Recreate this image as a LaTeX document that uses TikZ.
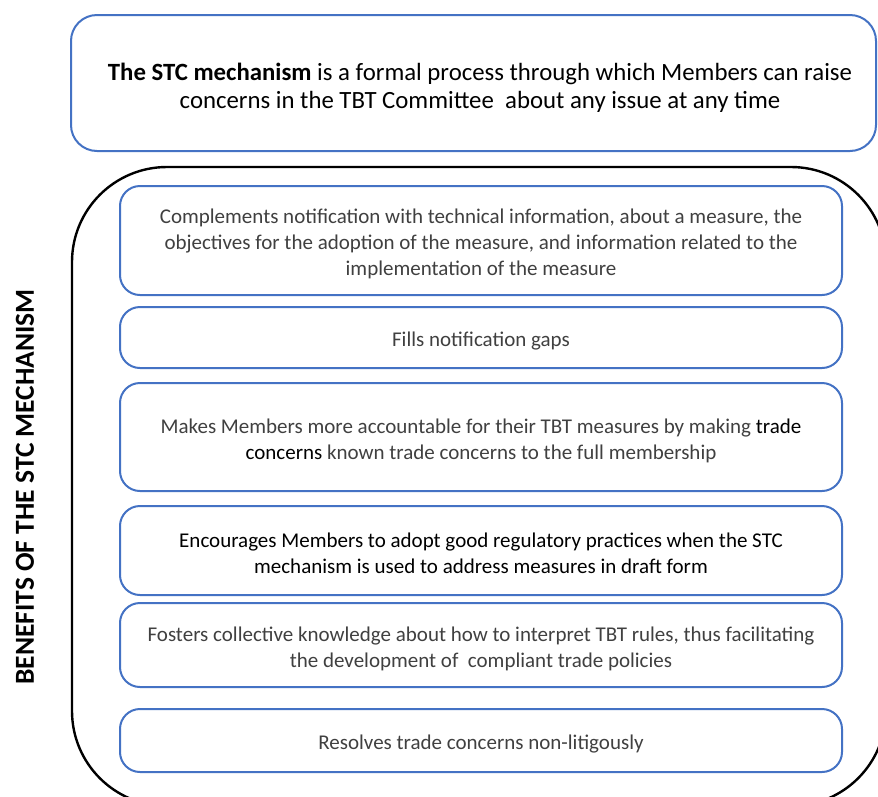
\documentclass[tikz,border=0pt]{standalone}
\usepackage{fontspec}
\setmainfont{Carlito}
\definecolor{boxblue}{HTML}{4472C4}
\definecolor{txtgray}{HTML}{404040}
\begin{document}
\begin{tikzpicture}[x=1pt,y=-1pt,
  itembox/.style={draw=boxblue,line width=2pt,rounded corners=20pt,minimum width=722pt,inner sep=0pt},
  itemtext/.style={align=center,text=txtgray,font=\fontsize{21}{26}\selectfont,inner sep=0pt,yshift=-3.5pt},
  topbox/.style={draw=boxblue,line width=2pt,rounded corners=26pt,minimum width=805pt,
    minimum height=136pt,inner sep=0pt}]
\useasboundingbox (0,0) rectangle (878,796);
\clip (0,0) rectangle (878,796);
\fill[white] (0,0) rectangle (878,796);
\node[topbox] (top) at (473.5,83) {};
\node[align=center,font=\fontsize{24.8}{28}\selectfont,inner sep=0pt] (toptext) at (480,88) {\textbf{The STC mechanism} is a formal process through which Members can raise\\concerns in the TBT Committee\ \ about any issue at any time};
\draw[line width=2.4pt,rounded corners=95pt] (72,167) rectangle (886,806);
\node[itembox,minimum height=109pt] (b1) at (481,240.5) {};
\node[itemtext] (t1) at (b1.center) {Complements notification with technical information, about a measure, the\\objectives for the adoption of the measure, and information related to the\\implementation of the measure};
\node[itembox,minimum height=61pt] (b2) at (481,337.5) {};
\node[itemtext] (t2) at (b2.center) {Fills notification gaps};
\node[itembox,minimum height=108pt] (b3) at (481,437) {};
\node[itemtext] (t3) at (b3.center) {Makes Members more accountable for their TBT measures by making \textcolor{black}{trade}\\\textcolor{black}{concerns} known trade concerns to the full membership};
\node[itembox,minimum height=89pt] (b4) at (481,550.5) {};
\node[itemtext,text=black,yshift=1pt] (t4) at (b4.center) {Encourages Members to adopt good regulatory practices when the STC\\mechanism is used to address measures in draft form};
\node[itembox,minimum height=84pt] (b5) at (481,645) {};
\node[itemtext] (t5) at (b5.center) {Fosters collective knowledge about how to interpret TBT rules, thus facilitating\\the development of\ \ compliant trade policies};
\node[itembox,minimum height=63pt] (b6) at (481,740.5) {};
\node[itemtext] (t6) at (b6.center) {Resolves trade concerns non-litigously};
\node[rotate=90,font=\fontsize{27.5}{30}\selectfont\bfseries,text=black] (lbl) at (25,487) {BENEFITS OF THE STC MECHANISM};
\end{tikzpicture}
\end{document}
